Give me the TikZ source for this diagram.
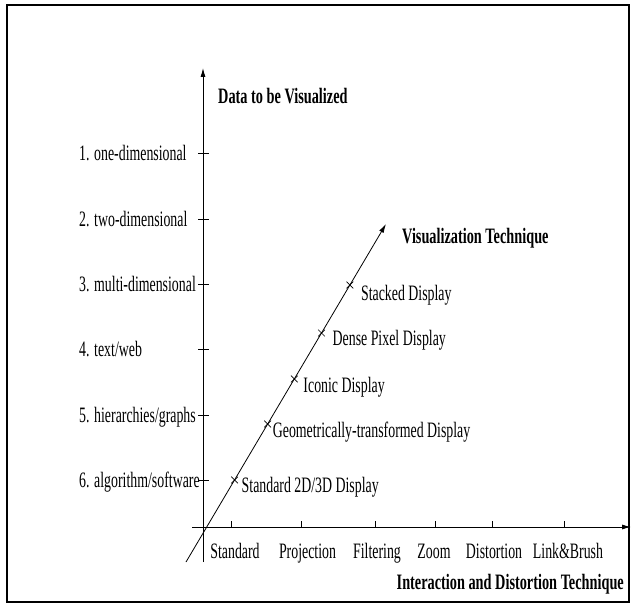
\documentclass[tikz,border=0pt]{standalone}
\usepackage{fontspec}
\setmainfont{Liberation Serif}[FakeStretch=0.63]
\newfontfamily\bcond{Liberation Serif}[FakeStretch=0.65]
\usetikzlibrary{arrows.meta,calc,shapes.misc}
\begin{document}
\begin{tikzpicture}[x=1pt,y=-1pt,
  lab/.style={font=\fontsize{22}{26}\selectfont, inner sep=0pt},
  blab/.style={font=\bcond\bfseries\fontsize{22}{26}\selectfont, inner sep=0pt},
  axisline/.style={line width=0.8pt},
  arr/.style={-{Latex[length=9pt,width=5pt]}},
  tickline/.style={line width=0.8pt},
  xmark/.style={cross out, draw, line width=0.7pt, minimum size=6pt, inner sep=0pt}]
\useasboundingbox (0,0) rectangle (634,607);
\draw[line width=2.5pt] (7,5) rectangle (629,602);

% axes
\coordinate (ybot) at (203,562);
\coordinate (ytop) at (203,68);
\coordinate (xl) at (192,527);
\coordinate (xr) at (631,527);
\coordinate (dl) at (186,562);
\coordinate (dr) at (386,224);
\draw[axisline,arr] (ybot) -- (ytop);
\draw[axisline,arr] (xl) -- (xr);
\draw[axisline,arr] (dl) -- (dr);

% vertical axis ticks and labels
\foreach \y/\t [count=\i] in {153/{1. one-dimensional},219/{2. two-dimensional},284/{3. multi-dimensional},349/{4. text/web},415/{5. hierarchies/graphs},480/{6. algorithm/software}}{
  \draw[tickline] (198,\y) -- (209,\y);
  \node[lab, anchor=base west] (d\i) at (79,\y+7) {\t};
}
\node[blab, anchor=base west] (dtitle) at (218,104) {Data to be Visualized};

% horizontal axis ticks and labels
\foreach \x in {231,301,375,435,492,564}{
  \draw[tickline] (\x,521) -- (\x,527);
}
\foreach \x/\t [count=\i] in {235/Standard,307.5/Projection,377/Filtering,434/Zoom,494/Distortion,568/{Link\&Brush}}{
  \node[lab, anchor=base] (h\i) at (\x,558) {\t};
}
\node[blab, anchor=base east] (htitle) at (624,589) {Interaction and Distortion Technique};

% diagonal axis marks and labels
\path (dl) -- (dr)
  coordinate[pos=0.2426] (c1)
  coordinate[pos=0.4083] (c2)
  coordinate[pos=0.5414] (c3)
  coordinate[pos=0.6775] (c4)
  coordinate[pos=0.8195] (c5);
\foreach \i in {1,...,5}{ \node[xmark] (m\i) at (c\i) {}; }
\node[lab, anchor=base west] (v1) at ($(c1)+(7,12)$) {Standard 2D/3D Display};
\node[lab, anchor=base west] (v2) at ($(c2)+(5,13)$) {Geometrically-transformed Display};
\node[lab, anchor=base west] (v3) at ($(c3)+(9,13)$) {Iconic Display};
\node[lab, anchor=base west] (v4) at ($(c4)+(11,12)$) {Dense Pixel Display};
\node[lab, anchor=base west] (v5) at ($(c5)+(11,15)$) {Stacked Display};
\node[blab, anchor=base west] (vtitle) at (402,243) {Visualization Technique};
\end{tikzpicture}
\end{document}
